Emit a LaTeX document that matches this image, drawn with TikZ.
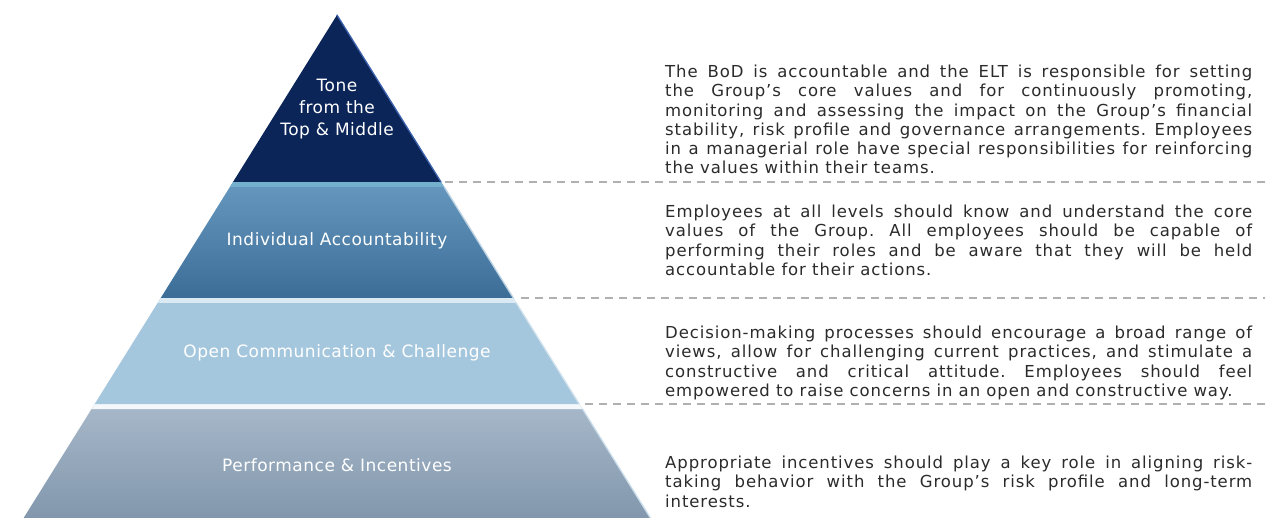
\documentclass[tikz,border=0pt]{standalone}
\usepackage{fontspec}
\setmainfont{DejaVu Sans}
\newfontfamily\bodyfont[LetterSpace=5.5]{DejaVu Sans}
\newfontfamily\labelfont[LetterSpace=3]{DejaVu Sans}
\definecolor{navy}{HTML}{0B2559}
\definecolor{navyedge}{HTML}{3D62AE}
\definecolor{midtop}{HTML}{6698BF}
\definecolor{midbot}{HTML}{3C6D97}
\definecolor{lightblue}{HTML}{A5C7DE}
\definecolor{basetop}{HTML}{A7B8C9}
\definecolor{basebot}{HTML}{8297AD}
\definecolor{bodytext}{HTML}{2B2B2B}
\definecolor{dashgray}{HTML}{B0B0B0}
\frenchspacing
\begin{document}
\begin{tikzpicture}[x=1pt,y=-1pt,
  tierlabel/.style={text=white,font=\labelfont\fontsize{17}{22}\selectfont,align=center,inner sep=0pt},
  desc/.style={anchor=north west,inner sep=0pt,text=bodytext,text width=587pt,align=justify,
    font=\bodyfont\fontsize{16.5}{19.2}\selectfont},
  sep/.style={draw=dashgray,line width=1.1pt,dash pattern=on 8pt off 6pt},
  edge/.style={line width=1.3pt,line cap=round}]
\useasboundingbox (0,0) rectangle (1265,518);
\fill[white] (0,0) rectangle (1265,518);

% tier corners
\coordinate (apex) at (337,15);
\coordinate (a1l) at (233,182);   \coordinate (a1r) at (441,182);
\coordinate (a2l) at (160.7,298); \coordinate (a2r) at (513.3,298);
\coordinate (a3l) at (94.7,404);  \coordinate (a3r) at (579.3,404);
\coordinate (a4l) at (23.6,518);  \coordinate (a4r) at (650.4,518);

% bottom tier
\shade[top color=basetop,bottom color=basebot] (a3l) -- (a3r) -- (a4r) -- (a4l) -- cycle;
\fill[white!88!lightblue] (a3l) -- (a3r) -- (582.5,409) -- (91.5,409) -- cycle;
\draw[edge,draw=white!40!lightblue] (582.5,409) -- (a4r);

% third tier
\fill[lightblue] (a2l) -- (a2r) -- (a3r) -- (a3l) -- cycle;
\fill[white!60!lightblue] (a2l) -- (a2r) -- (516.4,303) -- (157.6,303) -- cycle;
\draw[edge,draw=white!50!lightblue] (516.4,303) -- (a3r);

% second tier
\shade[top color=midtop,bottom color=midbot] (a1l) -- (a1r) -- (a2r) -- (a2l) -- cycle;
\fill[white!45!midtop!80!cyan!40!midtop] (a1l) -- (a1r) -- (444.2,187) -- (229.8,187) -- cycle;
\draw[edge,draw=white!55!midtop] (444.2,187) -- (a2r);

% top tier
\fill[navy] (apex) -- (a1r) -- (a1l) -- cycle;
\draw[edge,draw=navyedge] (apex) -- (a1r);

% tier labels
\node[tierlabel] (tone) at (337,109) {Tone\\from the\\Top \& Middle};
\node[tierlabel] (indiv) at (337,241) {Individual Accountability};
\node[tierlabel] (open) at (337,353) {Open Communication \& Challenge};
\node[tierlabel] (perf) at (337,465) {Performance \& Incentives};

% separators
\coordinate (s1) at (1265,182);
\coordinate (s2) at (1265,298);
\coordinate (s3) at (1265,404);
\draw[sep] ([xshift=4pt]a1r) -- (s1);
\draw[sep] ([xshift=8pt]a2r) -- (s2);
\draw[sep] ([xshift=6pt]a3r) -- (s3);

% descriptions
\node[desc] (d1) at (665,65) {The BoD is accountable and the ELT is responsible for setting\linebreak
the Group’s core values and for continuously promoting,\linebreak
monitoring and assessing the impact on the Group’s financial\linebreak
stability, risk profile and governance arrangements. Employees\linebreak
in a managerial role have special responsibilities for reinforcing\linebreak
the values within their teams.};
\node[desc] (d2) at (665,205) {Employees at all levels should know and understand the core\linebreak
values of the Group. All employees should be capable of\linebreak
performing their roles and be aware that they will be held\linebreak
accountable for their actions.};
\node[desc] (d3) at (665,326) {Decision-making processes should encourage a broad range of\linebreak
views, allow for challenging current practices, and stimulate a\linebreak
constructive and critical attitude. Employees should feel\linebreak
empowered to raise concerns in an open and constructive way.};
\node[desc] (d4) at (665,456) {Appropriate incentives should play a key role in aligning risk-\linebreak
taking behavior with the Group’s risk profile and long-term\linebreak
interests.};
\end{tikzpicture}
\end{document}
